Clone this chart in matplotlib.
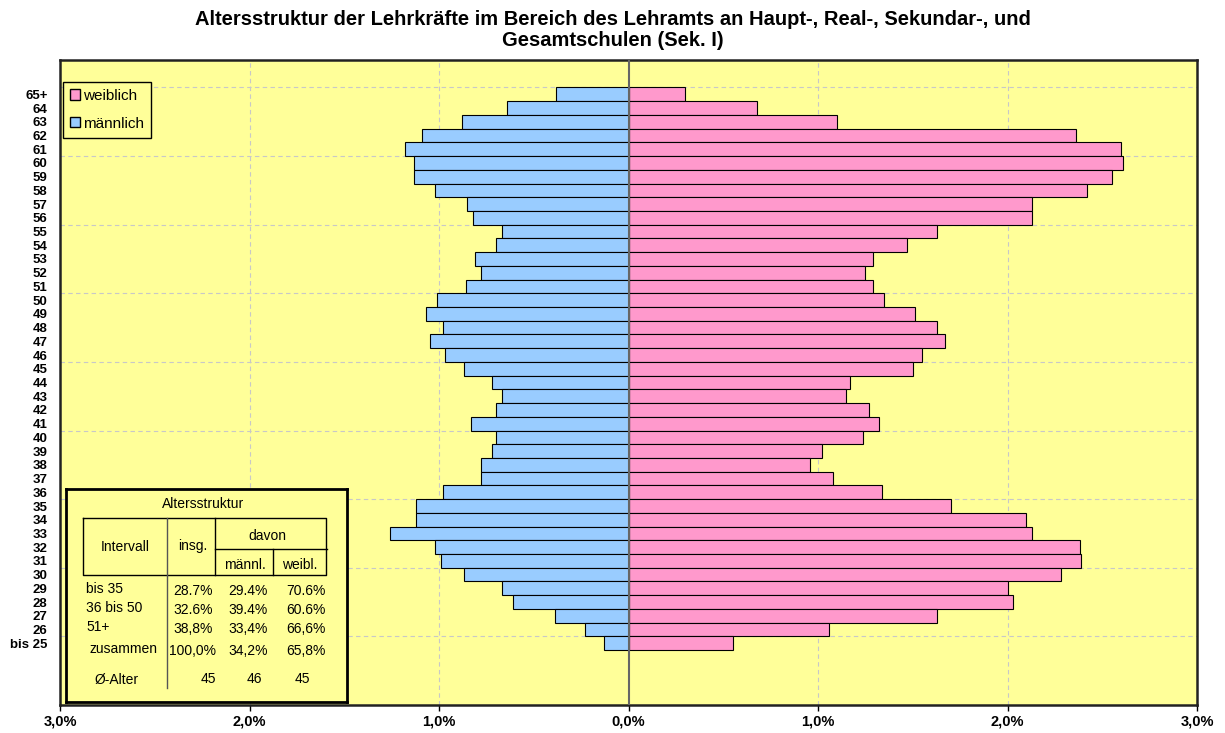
import numpy as np
import matplotlib
matplotlib.use("Agg")
import matplotlib.pyplot as plt
from matplotlib.patches import Patch

plt.rcParams['font.family'] = ['Liberation Sans', 'DejaVu Sans']

# Altersgruppen von oben nach unten
ages = ["65+", "64", "63", "62", "61", "60", "59", "58", "57", "56",
        "55", "54", "53", "52", "51", "50", "49", "48", "47", "46",
        "45", "44", "43", "42", "41", "40", "39", "38", "37", "36",
        "35", "34", "33", "32", "31", "30", "29", "28", "27", "26", "bis 25"]

# Anteil in %
weiblich = [0.30, 0.68, 1.10, 2.36, 2.60, 2.61, 2.55, 2.42, 2.13, 2.13,
            1.63, 1.47, 1.29, 1.25, 1.29, 1.35, 1.51, 1.63, 1.67, 1.55,
            1.50, 1.17, 1.15, 1.27, 1.32, 1.24, 1.02, 0.96, 1.08, 1.34,
            1.70, 2.10, 2.13, 2.38, 2.39, 2.28, 2.00, 2.03, 1.63, 1.06, 0.55]
maennlich = [0.38, 0.64, 0.88, 1.09, 1.18, 1.13, 1.13, 1.02, 0.85, 0.82,
             0.67, 0.70, 0.81, 0.78, 0.86, 1.01, 1.07, 0.98, 1.05, 0.97,
             0.87, 0.72, 0.67, 0.70, 0.83, 0.70, 0.72, 0.78, 0.78, 0.98,
             1.12, 1.12, 1.26, 1.02, 0.99, 0.87, 0.67, 0.61, 0.39, 0.23, 0.13]

x_ticks = [-3, -2, -1, 0, 1, 2, 3]

# Tabelle "Altersstruktur"
intervalle = ["bis 35", "36 bis 50", "51+", "zusammen"]
insg = ["28.7%", "32.6%", "38,8%", "100,0%"]
maennl = ["29.4%", "39.4%", "33,4%", "34,2%"]
weibl = ["70.6%", "60.6%", "66,6%", "65,8%"]
alter = ["45", "46", "45"]

W, H = 1225, 733
fig = plt.figure(figsize=(W / 100, H / 100), dpi=100)
ax = fig.add_axes([60 / W, 1 - 705 / H, 1137 / W, 645 / H])
bg = "#FFFF99"
ax.set_facecolor(bg)

n = len(ages)
y = np.arange(n)[::-1]
ax.barh(y, weiblich, height=1.0, color="#FF99CC", edgecolor="black",
        linewidth=0.8, label="weiblich", zorder=3)
ax.barh(y, [-v for v in maennlich], height=1.0, color="#99CCFF",
        edgecolor="black", linewidth=0.8, label="männlich", zorder=3)
ax.axvline(0, color="#666666", linewidth=1.5, zorder=4)

ax.set_xlim(-3, 3)
ax.set_ylim(-4.5, 42.5)

# Gitter
for gx in [-2, -1, 1, 2]:
    ax.axvline(gx, color="#C8C8C8", linestyle=(0, (4, 3)), linewidth=0.8, zorder=1)
for gy in np.arange(n - 0.5, 0, -5):
    ax.axhline(gy, color="#C8C8C8", linestyle=(0, (4, 3)), linewidth=0.8, zorder=1)

ax.set_xticks(x_ticks)
ax.set_xticklabels([("%.1f%%" % abs(v)).replace(".", ",") for v in x_ticks],
                   fontsize=10.5, fontweight="bold")
ax.tick_params(axis="x", length=4, width=1, pad=3)
ax.set_yticks(y)
ax.set_yticklabels(ages, fontsize=9.5, fontweight="bold")
ax.tick_params(axis="y", length=0, pad=9)
for s in ax.spines.values():
    s.set_linewidth(1.8)
    s.set_color("#222222")

handles = [Patch(facecolor="#FF99CC", edgecolor="black", label="weiblich"),
           Patch(facecolor="#99CCFF", edgecolor="black", label="männlich")]
leg = ax.legend(handles=handles, loc="upper left",
                bbox_to_anchor=(3 / 1137, 1 - 22 / 645),
                borderaxespad=0, fontsize=11, frameon=True, fancybox=False,
                facecolor=bg, edgecolor="black", framealpha=1,
                handlelength=0.65, handleheight=0.65, handletextpad=0.2,
                labelspacing=0.9, borderpad=0.45)
leg.get_frame().set_linewidth(1.0)

fig.text(0.5, 1 - 30 / H,
         "Altersstruktur der Lehrkräfte im Bereich des Lehramts an Haupt-, Real-, Sekundar-, und\n"
         "Gesamtschulen (Sek. I)",
         ha="center", va="center", fontsize=14.5, fontweight="bold", linespacing=1.15)

# Tabelle als eigenes Achsenfeld (Pixelkoordinaten innerhalb des Kastens)
tx = fig.add_axes([66 / W, 1 - 702 / H, 281 / W, 213 / H])
tx.set_facecolor(bg)
tx.set_xlim(0, 281)
tx.set_ylim(213, 0)
tx.set_xticks([])
tx.set_yticks([])
for s in tx.spines.values():
    s.set_linewidth(2)
    s.set_color("black")

lk = dict(color="black", linewidth=1.0)
tx.plot([17, 260, 260, 17, 17], [29, 29, 86, 86, 29], **lk)
tx.plot([101, 101], [29, 199], color="#555555", linewidth=1.0)
tx.plot([149, 149], [29, 86], **lk)
tx.plot([149, 261], [60, 60], **lk)
tx.plot([207, 207], [60, 86], **lk)

fs = 10
tx.text(137, 15, "Altersstruktur", ha="center", va="center", fontsize=fs)
tx.text(59, 58, "Intervall", ha="center", va="center", fontsize=fs)
tx.text(127, 57, "insg.", ha="center", va="center", fontsize=fs)
tx.text(201, 47, "davon", ha="center", va="center", fontsize=fs)
tx.text(179, 76, "männl.", ha="center", va="center", fontsize=fs)
tx.text(234, 76, "weibl.", ha="center", va="center", fontsize=fs)

row_y = [101, 120, 139, 161]
for i, lab in enumerate(intervalle):
    tx.text(20 if i < 3 else 23, row_y[i] - 1, lab, ha="left", va="center", fontsize=fs)
    tx.text(127, row_y[i] + 1, insg[i], ha="center", va="center", fontsize=fs)
    tx.text(182, row_y[i] + 1, maennl[i], ha="center", va="center", fontsize=fs)
    tx.text(240, row_y[i] + 1, weibl[i], ha="center", va="center", fontsize=fs)
tx.text(51, 191, "Ø-Alter", ha="center", va="center", fontsize=fs)
for xx, val in zip([142, 188, 236], alter):
    tx.text(xx, 190, val, ha="center", va="center", fontsize=fs)

fig.savefig("out.png", dpi=100, facecolor="white")
